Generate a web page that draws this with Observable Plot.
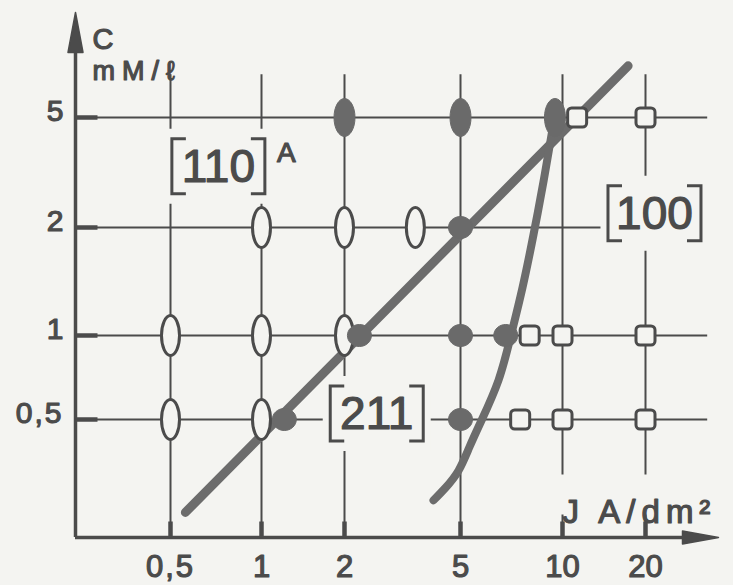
<!DOCTYPE html>
<html><head><meta charset="utf-8">
<script src="https://cdn.jsdelivr.net/npm/d3@7"></script>
<script src="https://cdn.jsdelivr.net/npm/@observablehq/plot@0.6"></script>
<style>
html,body{margin:0;padding:0;background:#f4f4f1;}
#chart svg{display:block;}
</style></head><body><div id="chart"></div>
<script>
// ---- data ----
const xTicks = [0.5, 1, 2, 5, 10, 20];
const xTickLabels = ["0,5", "1", "2", "5", "10", "20"];
const yTicks = [0.5, 1, 2, 5];
const yTickLabels = ["0,5", "1", "2", "5"];

// hand-drawn log axes: scale break points
const xDomain = [0.24, 0.5, 1, 2, 5, 10, 20, 36];
const yDomain = [0.2, 0.5, 1, 2, 5, 11.4];
const gridEndJ = 33;
const gridTopC = 7;

// open ellipses [110]
const openEllipseJ = [0.5, 1, 2, 0.5, 1, 1, 2, 3.5];
const openEllipseC = [1, 1, 1, 0.5, 0.5, 2, 2, 2];
// filled ellipses
const filledEllipseJ = [2, 5, 9.5];
const filledEllipseC = [5, 5, 5];
// filled circles [211]
const filledCircleJ = [1.21, 2.25, 5, 5, 6.8, 5];
const filledCircleC = [0.5, 1, 2, 1, 1, 0.5];
// open squares [100]
const squareJ = [11.3, 20, 8.0, 10, 20, 7.5, 10, 20];
const squareC = [5, 5, 1, 1, 1, 0.5, 0.5, 0.5];

// boundary lines
const straightJ = [0.56, 17.3];
const straightC = [0.243, 7.5];
const curveJ = [4.04, 4.45, 4.92, 5.31, 5.77, 6.47, 7.03, 7.62, 8.22, 8.80, 9.33, 9.60];
const curveC = [0.267, 0.295, 0.336, 0.403, 0.497, 0.69, 0.99, 1.36, 1.92, 2.96, 4.49, 5.5];

// region labels
const labelText = ["110", "100", "211"];
const labelJ = [0.72, 21.5, 2.58];
const labelC = [3.33, 2.25, 0.525];
const superText = ["A"];
const superJ = [1.23];
const superC = [3.71];

// axis titles
const yTitle = "C";
const yUnit = "mM/\u2113";
const xTitle = "J A/dm\u00b2";

// ---- styling ----
const ink = "#4b4b4b", fillInk = "#6a6a6a", lineInk = "#6c6c6c", paper = "#f4f4f1";
const font = "Liberation Sans";

const table = (xs, ys) => xs.map((x, i) => ({x, y: ys[i]}));

function ellipse(rx, ry) {
  const k = 0.5523;
  return {draw(c) {
    c.moveTo(rx, 0);
    c.bezierCurveTo(rx, ry * k, rx * k, ry, 0, ry);
    c.bezierCurveTo(-rx * k, ry, -rx, ry * k, -rx, 0);
    c.bezierCurveTo(-rx, -ry * k, -rx * k, -ry, 0, -ry);
    c.bezierCurveTo(rx * k, -ry, rx, -ry * k, rx, 0);
    c.closePath();
  }};
}
function roundSquare(s, rr) {
  const h = s / 2;
  return {draw(c) {
    c.moveTo(-h + rr, -h);
    c.arcTo(h, -h, h, h, rr);
    c.arcTo(h, h, -h, h, rr);
    c.arcTo(-h, h, -h, -h, rr);
    c.arcTo(-h, -h, h, -h, rr);
    c.closePath();
  }};
}
function box(w, h) {
  return {draw(c) {
    c.moveTo(-w / 2, -h / 2); c.lineTo(w / 2, -h / 2); c.lineTo(w / 2, h / 2); c.lineTo(-w / 2, h / 2); c.closePath();
  }};
}
function brackets(w, h, s) {
  return {draw(c) {
    c.moveTo(-w / 2 + s, -h / 2); c.lineTo(-w / 2, -h / 2); c.lineTo(-w / 2, h / 2); c.lineTo(-w / 2 + s, h / 2);
    c.moveTo(w / 2 - s, -h / 2); c.lineTo(w / 2, -h / 2); c.lineTo(w / 2, h / 2); c.lineTo(w / 2 - s, h / 2);
  }};
}
const hStub = len => ({draw(c) { c.moveTo(0, 0); c.lineTo(len, 0); }});
const vStub = len => ({draw(c) { c.moveTo(0, 0); c.lineTo(0, -len); }});
const arrowUp = (len, w) => ({draw(c) { c.moveTo(0, 0); c.lineTo(w / 2, len); c.lineTo(-w / 2, len); c.closePath(); }});
const arrowRight = (len, w) => ({draw(c) { c.moveTo(0, 0); c.lineTo(-len, -w / 2); c.lineTo(-len, w / 2); c.closePath(); }});

const xMin = xDomain[0], xMax = xDomain[xDomain.length - 1];
const yMin = yDomain[0], yMax = yDomain[yDomain.length - 1];
const textStyle = {fill: ink, stroke: ink, strokeWidth: 1.2};

const chart = Plot.plot({
  width: 733,
  height: 585,
  margin: 0,
  style: {background: paper, fontFamily: font},
  x: {type: "log", domain: xDomain, range: [75, 170, 261, 344, 460, 562, 645, 718], axis: null},
  y: {type: "log", domain: yDomain, range: [537, 419, 335, 227, 117, 12], axis: null},
  marks: [
    // grid
    Plot.ruleY(yTicks, {y: d => d, x1: xMin, x2: gridEndJ, stroke: ink, strokeWidth: 2}),
    Plot.ruleX(xTicks, {x: d => d, y1: yMin, y2: gridTopC, stroke: ink, strokeWidth: 2}),
    // axes
    Plot.ruleX([xMin], {x: d => d, y1: yMin, y2: yMax * 0.8, stroke: ink, strokeWidth: 3.5}),
    Plot.ruleY([yMin], {y: d => d, x1: xMin, x2: xMax * 0.85, stroke: ink, strokeWidth: 3.5}),
    Plot.dot([0], {x: xMin, y: yMax, symbol: arrowUp(40, 15), fill: ink, stroke: ink, strokeWidth: 1.5, strokeLinejoin: "round"}),
    Plot.dot([0], {x: xMax, y: yMin, symbol: arrowRight(36, 13), fill: ink, stroke: ink, strokeWidth: 1.5, strokeLinejoin: "round"}),
    // tick stubs
    Plot.dot(yTicks, {x: xMin, y: d => d, symbol: hStub(22), fill: "none", stroke: ink, strokeWidth: 4.5}),
    Plot.dot(xTicks, {x: d => d, y: yMin, symbol: vStub(16), fill: "none", stroke: ink, strokeWidth: 4.5}),
    // label backgrounds (interrupt the grid)
    Plot.dot(labelText, {x: (d, i) => labelJ[i], y: (d, i) => labelC[i], symbol: box(108, 75), fill: paper, stroke: "none"}),
    Plot.dot([0], {frameAnchor: "top-left", dx: 632, dy: 494, symbol: box(176, 40), fill: paper, stroke: "none"}),
    // boundary lines
    Plot.line(table(straightJ, straightC), {x: "x", y: "y", stroke: lineInk, strokeWidth: 9, strokeLinecap: "round"}),
    Plot.line(table(curveJ, curveC), {x: "x", y: "y", curve: "natural", stroke: lineInk, strokeWidth: 8, strokeLinecap: "round"}),
    // markers
    Plot.dot(table(openEllipseJ, openEllipseC), {x: "x", y: "y", symbol: ellipse(9, 20), fill: paper, stroke: ink, strokeWidth: 3}),
    Plot.dot(table(filledEllipseJ, filledEllipseC), {x: "x", y: "y", symbol: ellipse(10.5, 19), fill: fillInk, stroke: fillInk, strokeWidth: 1}),
    Plot.dot(table(filledCircleJ, filledCircleC), {x: "x", y: "y", symbol: ellipse(12, 11), fill: fillInk, stroke: fillInk, strokeWidth: 1}),
    Plot.dot(table(squareJ, squareC), {x: "x", y: "y", symbol: roundSquare(19, 4), fill: paper, stroke: ink, strokeWidth: 3}),
    // region labels
    Plot.dot(labelText, {x: (d, i) => labelJ[i], y: (d, i) => labelC[i], symbol: brackets(93, 55, 14), fill: "none", stroke: ink, strokeWidth: 3}),
    Plot.text(labelText, {x: (d, i) => labelJ[i], y: (d, i) => labelC[i], text: d => d, fontSize: 46, dy: 1, ...textStyle}),
    Plot.text(superText, {x: (d, i) => superJ[i], y: (d, i) => superC[i], text: d => d, fontSize: 28, ...textStyle}),
    // tick labels
    Plot.text(xTicks, {x: d => d, y: yMin, text: (d, i) => xTickLabels[i], dy: 30, fontSize: 31, ...textStyle}),
    Plot.text(yTicks, {x: xMin, y: d => d, text: (d, i) => yTickLabels[i], dx: -12, dy: -6, textAnchor: "end", fontSize: 30, ...textStyle}),
    // axis titles
    Plot.text([yTitle], {frameAnchor: "top-left", dx: 92, dy: 28, textAnchor: "start", fontSize: 29, ...textStyle}),
    Plot.text([yUnit], {frameAnchor: "top-left", dx: 92, dy: 60, textAnchor: "start", fontSize: 27, ...textStyle}),
    Plot.text([xTitle], {frameAnchor: "top-left", dx: 562, dy: 499, textAnchor: "start", fontSize: 33, ...textStyle})
  ]
});
// letter spacing of the hand-lettered texts
const spacing = {[yUnit]: 7, [xTitle]: 6, "0,5": 2};
chart.querySelectorAll("text").forEach(t => {
  const s = spacing[t.textContent];
  if (s !== undefined) t.setAttribute("letter-spacing", s);
});
document.getElementById("chart").append(chart);
</script></body></html>
